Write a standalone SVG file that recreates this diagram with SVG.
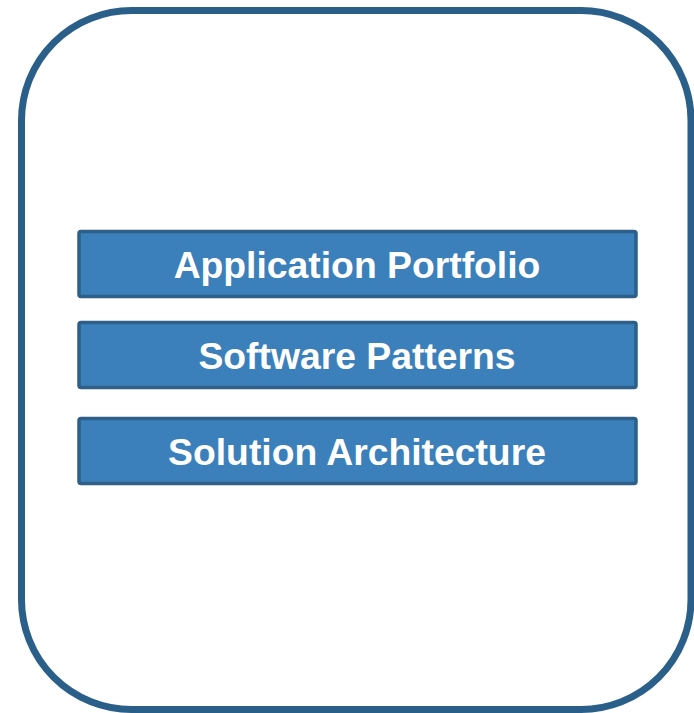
<svg xmlns="http://www.w3.org/2000/svg" width="694" height="713" viewBox="0 0 694 713">
<style>
.box{fill:#3b80bb;stroke:#2d5f88;stroke-width:3.5}
.lbl{font-family:"Liberation Sans",Arial,sans-serif;font-weight:bold;font-size:37.3px;fill:#fff;text-anchor:middle}
</style>
<rect width="694" height="713" fill="#fff"/>
<g id="frame"><rect x="21.5" y="10.5" width="669.5" height="699" rx="110" ry="110" fill="none" stroke="#2a5f8a" stroke-width="7"/></g>
<g id="n1"><rect class="box" x="79" y="231.5" width="557" height="65" rx="2"/><text class="lbl" x="357" y="278">Application Portfolio</text></g>
<g id="n2"><rect class="box" x="79" y="322.5" width="557" height="65" rx="2"/><text class="lbl" x="357" y="369">Software Patterns</text></g>
<g id="n3"><rect class="box" x="79" y="418.5" width="557" height="65" rx="2"/><text class="lbl" x="357" y="465">Solution Architecture</text></g>
<g id="connectors"></g>
</svg>
